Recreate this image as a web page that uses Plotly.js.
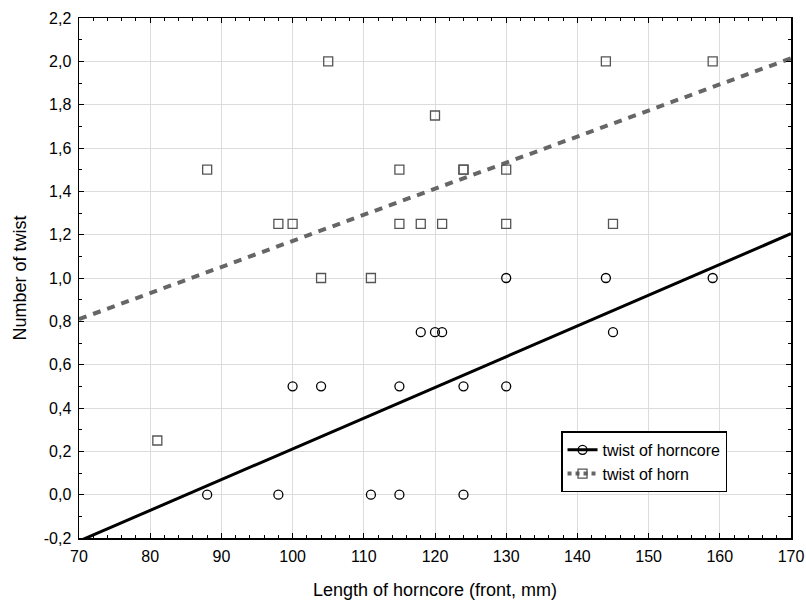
<!DOCTYPE html>
<html>
<head>
<meta charset="utf-8">
<script src="https://cdn.plot.ly/plotly-3.0.1.min.js"></script>
<style>html,body{margin:0;padding:0;background:#fff;}#chart{width:806px;height:601px;}</style>
</head>
<body>
<div id="chart"></div>
<script>
// Data
const horncoreLength = [88, 98, 100, 104, 111, 115, 115, 118, 120, 121, 124, 124, 130, 130, 144, 145, 159];
const horncoreTwist  = [0, 0, 0.5, 0.5, 0, 0, 0.5, 0.75, 0.75, 0.75, 0.5, 0, 0.5, 1.0, 1.0, 0.75, 1.0];
const hornLength = [81, 88, 98, 100, 104, 105, 111, 115, 115, 118, 120, 121, 124, 124, 130, 130, 144, 145, 159];
const hornTwist  = [0.25, 1.5, 1.25, 1.25, 1.0, 2.0, 1.0, 1.5, 1.25, 1.25, 1.75, 1.25, 1.5, 1.5, 1.5, 1.25, 2.0, 1.25, 2.0];
const xRange = [70, 170];
const yRange = [-0.2, 2.2];
const yTickVals = [-0.2, 0, 0.2, 0.4, 0.6, 0.8, 1.0, 1.2, 1.4, 1.6, 1.8, 2.0, 2.2];
const yTickText = ['-0,2', '0,0', '0,2', '0,4', '0,6', '0,8', '1,0', '1,2', '1,4', '1,6', '1,8', '2,0', '2,2'];
const seriesNames = ['twist of horncore', 'twist of horn'];

function fit(xs, ys) {
  const n = xs.length;
  const mx = xs.reduce((a, b) => a + b, 0) / n;
  const my = ys.reduce((a, b) => a + b, 0) / n;
  let sxy = 0, sxx = 0;
  for (let i = 0; i < n; i++) { sxy += (xs[i] - mx) * (ys[i] - my); sxx += (xs[i] - mx) ** 2; }
  const b = sxy / sxx, a = my - b * mx;
  return xRange.map(x => a + b * x);
}

const fitCore = fit(horncoreLength, horncoreTwist);
const fitHorn = fit(hornLength, hornTwist);

const coreLine = {color: '#000', width: 3};
const hornLine = {color: '#666', width: 4, dash: '8px,7px'};
const coreMarker = {symbol: 'circle-open', size: 9, color: '#000', line: {width: 1.3, color: '#000'}};
const hornMarker = {symbol: 'square-open', size: 9, color: '#555', line: {width: 1.3, color: '#555'}};

const traces = [
  {x: xRange, y: fitCore, mode: 'lines', line: coreLine, showlegend: false, hoverinfo: 'skip'},
  {x: xRange, y: fitHorn, mode: 'lines', line: hornLine, showlegend: false, hoverinfo: 'skip'},
  {x: horncoreLength, y: horncoreTwist, mode: 'markers', marker: coreMarker, showlegend: false},
  {x: hornLength, y: hornTwist, mode: 'markers', marker: hornMarker, showlegend: false},
  // legend entries (line + marker)
  {x: [null], y: [null], mode: 'lines+markers', name: seriesNames[0], line: coreLine, marker: coreMarker},
  {x: [null], y: [null], mode: 'lines+markers', name: seriesNames[1], line: {color: '#666', width: 4, dash: '4px,4px'}, marker: hornMarker}
];

const font = {family: 'Liberation Sans, Arial, sans-serif', color: '#000'};
const layout = {
  width: 806, height: 601,
  margin: {l: 79, r: 15, t: 18, b: 63},
  paper_bgcolor: '#fff', plot_bgcolor: '#fff',
  font: Object.assign({size: 16}, font),
  showlegend: true,
  legend: {x: 0.677, y: 0.205, xanchor: 'left', yanchor: 'top', bgcolor: '#fff', bordercolor: '#000', borderwidth: 1.5,
           font: Object.assign({size: 16}, font), tracegroupgap: 0, itemwidth: 30},
  xaxis: {range: xRange, dtick: 10, tick0: 70, showgrid: true, gridcolor: '#dcdcdc', gridwidth: 1,
          showline: true, linecolor: '#000', linewidth: 1.5, mirror: 'allticks', ticks: 'inside', ticklen: 5, tickcolor: '#000',
          minor: {dtick: 2, ticks: 'inside', ticklen: 3, tickcolor: '#000', showgrid: false},
          zeroline: false, tickfont: Object.assign({size: 16}, font), ticklabelstandoff: 3,
          title: {text: 'Length of horncore (front, mm)', font: Object.assign({size: 18}, font), standoff: 19}},
  yaxis: {range: yRange, tickmode: 'array', tickvals: yTickVals, ticktext: yTickText, showgrid: true, gridcolor: '#dcdcdc', gridwidth: 1,
          showline: true, linecolor: '#000', linewidth: 1.5, mirror: 'allticks', ticks: 'inside', ticklen: 5, tickcolor: '#000',
          minor: {dtick: 0.1, tick0: 0, ticks: 'inside', ticklen: 3, tickcolor: '#000', showgrid: false},
          zeroline: false, tickfont: Object.assign({size: 16}, font), ticklabelstandoff: 3,
          title: {text: 'Number of twist', font: Object.assign({size: 18}, font), standoff: 12}}
};

Plotly.newPlot('chart', traces, layout, {displayModeBar: false, staticPlot: true});
</script>
</body>
</html>
